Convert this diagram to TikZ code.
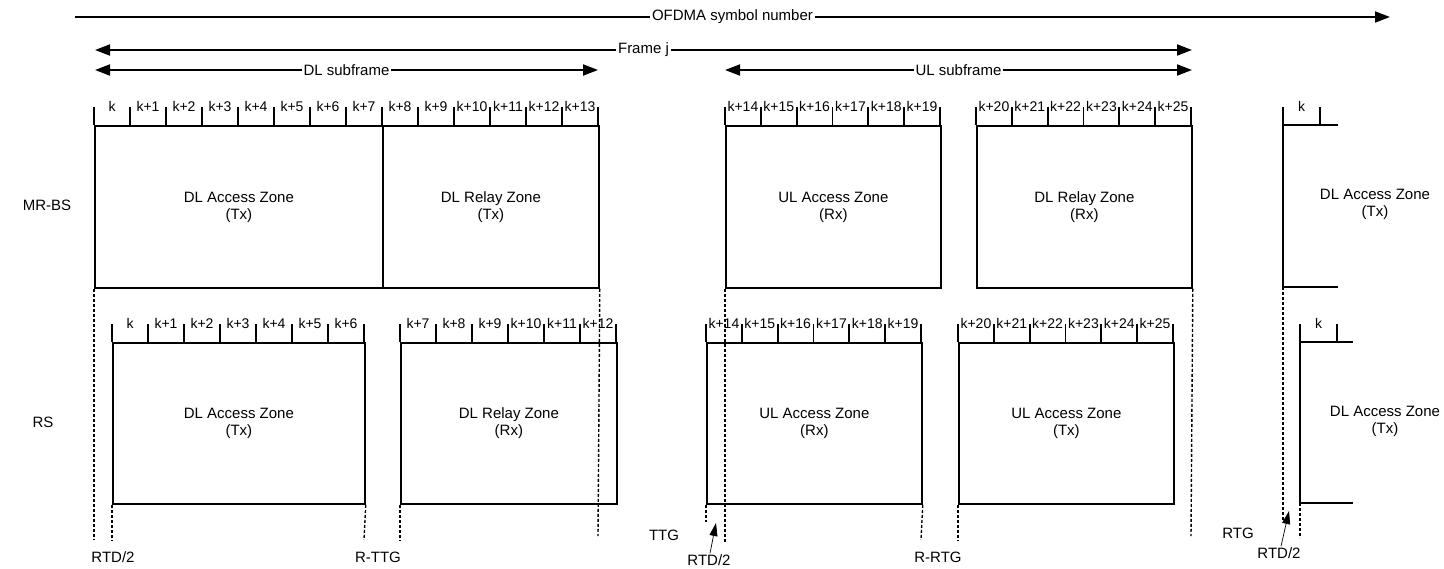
\documentclass[tikz,border=0pt]{standalone}
\usepackage{fontspec}
\setmainfont{Liberation Sans}
\usetikzlibrary{arrows.meta,calc}
\newcommand\myZoneFont{\fontsize{15}{17}\selectfont}
\newcommand\mySlotFont{\fontsize{14}{15}\selectfont}
\newcommand\mySlotRow[6]{% #1 prefix, #2 x0, #3 slot width, #4 first index, #5 count, #6 line y
  \foreach \i in {0,...,#5}{\draw[tickline] (#2+\i*#3,#6) -- (#2+\i*#3,#6-18);}
  \foreach \i [evaluate=\i as \lab using int(\i+#4-1)] in {1,...,#5}{%
    \node[slotlbl] (#1\lab) at (#2+\i*#3-0.5*#3,#6-19) {\ifnum\lab=0 k\else k+\lab\fi};}
}
\begin{document}
\begin{tikzpicture}[x=1pt,y=-1pt,
  zonebox/.style={draw, line width=1.8pt, anchor=north west, align=center, inner sep=0pt, font=\myZoneFont},
  zonetext/.style={align=center, inner sep=0pt, font=\myZoneFont},
  tickline/.style={line width=1.8pt},
  slotlbl/.style={inner sep=0pt, font=\mySlotFont},
  rowlbl/.style={inner sep=0pt, font=\myZoneFont},
  gaplbl/.style={inner sep=0pt, font=\myZoneFont},
  dashline/.style={line width=1.4pt, dash pattern=on 3pt off 2pt},
  bigarrow/.style={line width=1.8pt, -{Triangle[length=15pt,width=11pt]}},
  dblarrow/.style={line width=1.8pt, {Triangle[length=15pt,width=11pt]}-{Triangle[length=15pt,width=11pt]}},
  smallarrow/.style={line width=0.7pt, -{Triangle[length=13pt,width=8pt]}},
  arrlbl/.style={fill=white, inner sep=2pt, font=\myZoneFont}
]
\useasboundingbox (0,0) rectangle (1444,568);

% top arrows
\coordinate (oL) at (75,17);   \coordinate (oR) at (1390,17);
\coordinate (fL) at (95,50);   \coordinate (fR) at (1192,50);
\coordinate (dL) at (95,70);   \coordinate (dR) at (598,70);
\coordinate (uL) at (725,70);  \coordinate (uR) at (1192,70);
\draw[bigarrow] (oL) -- (oR) node[midway, arrlbl] (ofdma) {OFDMA symbol number};
\draw[dblarrow] (fL) -- (fR) node[midway, arrlbl] (framej) {Frame j};
\draw[dblarrow] (dL) -- (dR) node[midway, arrlbl] (dlsub) {DL subframe};
\draw[dblarrow] (uL) -- (uR) node[midway, arrlbl] (ulsub) {UL subframe};

% row labels
\node[rowlbl] (mrbs) at (47,205) {MR-BS};
\node[rowlbl] (rs) at (43,422) {RS};

% MR-BS zones
\node[zonebox, minimum width=288, minimum height=162] (bsDLA) at (94,125) {DL Access Zone\\(Tx)};
\node[zonebox, minimum width=216, minimum height=162] (bsDLR) at (382,125) {DL Relay Zone\\(Tx)};
\node[zonebox, minimum width=215, minimum height=162] (bsULA) at (725,125) {UL Access Zone\\(Rx)};
\node[zonebox, minimum width=215, minimum height=162] (bsDLR2) at (976,125) {DL Relay Zone\\(Rx)};
\mySlotRow{bs}{94}{36}{0}{14}{125}
\mySlotRow{bs}{725}{35.833}{14}{6}{125}
\mySlotRow{bs}{976}{35.833}{20}{6}{125}
% MR-BS partial zone
\coordinate (bsPtl) at (1283,107);
\draw[tickline] (1338,125) -- (1283,125) -- (1283,287) -- (1338,287);
\draw[tickline] (bsPtl) -- (1283,125);
\draw[tickline] (1320,107) -- (1320,125);
\node[slotlbl] (bsNk) at (1301.5,106) {k};
\node[zonetext] (bsNext) at (1375,204.5) {DL Access Zone\\(Tx)};

% RS zones
\node[zonebox, minimum width=252, minimum height=161] (rsDLA) at (112,342) {DL Access Zone\\(Tx)};
\node[zonebox, minimum width=216, minimum height=161] (rsDLR) at (400,342) {DL Relay Zone\\(Rx)};
\node[zonebox, minimum width=215, minimum height=161] (rsULA) at (706,342) {UL Access Zone\\(Rx)};
\node[zonebox, minimum width=215, minimum height=161] (rsULT) at (958,342) {UL Access Zone\\(Tx)};
\mySlotRow{rs}{112}{36}{0}{7}{342}
\mySlotRow{rs}{400}{36}{7}{6}{342}
\mySlotRow{rs}{706}{35.833}{14}{6}{342}
\mySlotRow{rs}{958}{35.833}{20}{6}{342}
% RS partial zone
\draw[tickline] (1353,342) -- (1300,342) -- (1300,503) -- (1353,503);
\draw[tickline] (1300,324) -- (1300,342);
\draw[tickline] (1337,324) -- (1337,342);
\node[slotlbl] (rsNk) at (1318.5,323) {k};
\node[zonetext] (rsNext) at (1385,421.5) {DL Access Zone\\(Tx)};

% dashed timing lines
\draw[dashline] (bsDLA.south west) -- (94,540);
\draw[dashline] (rsDLA.south west) -- (112,540);
\draw[dashline] (rsDLA.south east) -- (364,540);
\draw[dashline] (rsDLR.south west) -- (400,540);
\draw[dashline] (bsDLR.south east) -- (598,536);
\draw[dashline] (bsULA.south west) -- (725,542);
\draw[dashline] (rsULA.south west) -- (706,522);
\draw[dashline] (rsULA.south east) -- (921,540);
\draw[dashline] (rsULT.south west) -- (958,540);
\draw[dashline] (bsDLR2.south east) -- (1191,536);
\draw[dashline] (1283,287) -- (1283,520);
\draw[dashline] (1300,503) -- (1300,538);

% gap labels
\node[gaplbl] (rtdA) at (113,557) {RTD/2};
\node[gaplbl] (rttg) at (378,557) {R-TTG};
\node[gaplbl] (ttg) at (664,535) {TTG};
\node[gaplbl] (rtdB) at (709,560) {RTD/2};
\node[gaplbl] (rrtg) at (938,557) {R-RTG};
\node[gaplbl] (rtg) at (1238,533) {RTG};
\node[gaplbl] (rtdC) at (1279,553) {RTD/2};
\coordinate (tipB) at (716,523);
\coordinate (tipC) at (1289,511);
\draw[smallarrow] (rtdB.north) ++(1,-1) -- (tipB);
\draw[smallarrow] (rtdC.north) ++(2,-1) -- (tipC);
\end{tikzpicture}
\end{document}
